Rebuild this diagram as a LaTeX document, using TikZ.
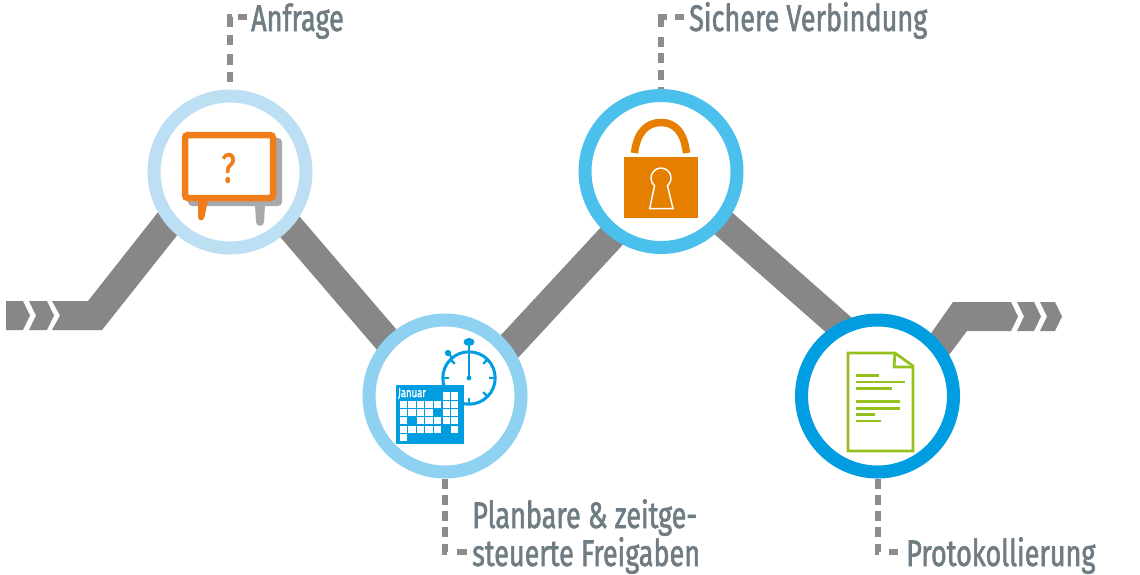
\documentclass[tikz,border=0pt]{standalone}
\usepackage{fontspec}
\usepackage{xcolor}
\usetikzlibrary{backgrounds}
\newfontfamily\labelfont[FakeStretch=0.73,FakeBold=1.5]{Fira Sans}

\definecolor{ringa}{HTML}{BDDFF3}
\definecolor{ringb}{HTML}{8ED1F0}
\definecolor{ringc}{HTML}{4CC0EC}
\definecolor{ringd}{HTML}{009EE0}
\definecolor{bandgrey}{HTML}{878787}
\definecolor{dashgrey}{HTML}{8C8C8C}
\definecolor{shadowgrey}{HTML}{A7A9AC}
\definecolor{textgrey}{HTML}{6F7C83}
\definecolor{bubbleorange}{HTML}{F07D1A}
\definecolor{lockorange}{HTML}{E67E00}
\definecolor{docgreen}{HTML}{95C11F}

\tikzset{
	ring/.style={circle, draw=#1, line width=13pt, fill=white, minimum size=152pt, inner sep=0pt},
	band/.style={draw=bandgrey, line width=28pt},
	leader/.style={draw=dashgrey, line width=6pt, dash pattern=#1},
	leaderbottom/.style={leader={on 10pt off 6.3pt on 10pt off 6.3pt on 10pt off 6.3pt on 10pt off 6.3pt on 10pt off 10pt on 10pt}},
	lbl/.style={text=textgrey, anchor=west, inner xsep=5pt, inner ysep=0pt, text height=30pt, text depth=2pt, font=\labelfont\fontsize{37}{40}\selectfont},
	docline/.style={draw=docgreen, line width=2.6pt}
}

\begin{document}
\begin{tikzpicture}[x=1pt, y=-1pt]
	\useasboundingbox (0,0) rectangle (1140,574);
	
	% die vier Kreise
	\node[ring=ringa] (anfrage) at (230,172) {};
	\node[ring=ringb] (freigabe) at (445,396) {};
	\node[ring=ringc] (verbindung) at (661,171.5) {};
	\node[ring=ringd] (protokoll) at (877.5,396) {};
	
	% Beschriftungen
	\node[lbl, inner xsep=4pt] (anfragetext) at (247,17) {Anfrage};
	\node[lbl] (verbindungtext) at (684,17) {Sichere Verbindung};
	\node[lbl] (freigabetexta) at (467,514) {Planbare \& zeitge-};
	\node[lbl] (freigabetextb) at (467,552) {steuerte Freigaben};
	\node[lbl, inner xsep=8pt] (protokolltext) at (898,552) {Protokollierung};
	
	\begin{pgfonlayer}{background}
		% Band
		\draw[band] ([yshift=15pt]anfrage.center) -- ([yshift=-11.6pt]freigabe.center);
		\draw[band] ([yshift=-20pt]freigabe.center) -- ([yshift=-11.5pt]verbindung.center);
		\draw[band] ([yshift=3pt]verbindung.center) -- ([yshift=37pt]protokoll.center);
		
		% linkes Ende
		\fill[bandgrey] (6,301) -- (23,301) -- (30,315.5) -- (23,330) -- (6,330) -- cycle;
		\fill[bandgrey] (29,301) -- (47,301) -- (54,315.5) -- (47,330) -- (29,330) -- (36,315.5) -- cycle;
		\fill[bandgrey] (52,301) -- (88,301) -- (170,197) -- (190,219) -- (102,330) -- (52,330) -- (60,315.5) -- cycle;
		
		% rechtes Ende
		\fill[bandgrey] (920,349) -- (953,302) -- (1011,302) -- (1018,316.5) -- (1011,331) -- (967,331) -- (940,367) -- cycle;
		\fill[bandgrey] (1017,302) -- (1034,302) -- (1041,316.5) -- (1034,331) -- (1017,331) -- (1024,316.5) -- cycle;
		\fill[bandgrey] (1040,302) -- (1055,302) -- (1062,316.5) -- (1055,331) -- (1040,331) -- (1047,316.5) -- cycle;
		
		% gestrichelte Linien
		\draw[leader={on 9pt off 6.5pt on 11pt off 8pt on 10pt off 9pt on 11pt off 7pt on 10pt off 8pt on 2pt}] (anfragetext.west) -| (anfrage.north);
		\draw[leader={on 9pt off 8pt on 16pt off 10pt on 10pt off 6pt on 10pt off 7pt on 10pt off 7pt on 4pt}] (verbindungtext.west) -| (verbindung.north);
		\draw[leaderbottom] (freigabe.south) |- (freigabetextb.west);
		\draw[leaderbottom] (protokoll.south) |- (protokolltext.west);
	\end{pgfonlayer}
	
	% Sprechblase
	\fill[shadowgrey, rounded corners=4pt] (188,138) rectangle (282,206);
	\fill[shadowgrey] (255,205) -- (265,205) -- (264,222) .. controls (264,227) and (256,227) .. (256,222) -- cycle;
	\draw[bubbleorange, line width=6.5pt, rounded corners=3pt, fill=white] (185,135) rectangle (273,198);
	\fill[bubbleorange] (198,200) -- (208,200) -- (204.5,217) .. controls (203.5,221.5) and (198,221.5) .. (198,217) -- cycle;
	\node[text=bubbleorange, font=\labelfont\fontsize{42}{42}\selectfont, inner sep=0pt] (frage) at (228.5,168) {?};
	
	% Stoppuhr
	\draw[ringd, line width=3pt] (469,378) circle (26.2);
	\fill[ringd] (469,342) ellipse (5.5 and 4);
	\draw[ringd, line width=2.4pt] (469,342) -- (469,352);
	\fill[ringd] (448,353) circle (3.2);
	\draw[ringd, line width=2pt] (448,353) -- (453,359);
	\foreach \w in {0,45,...,315} {
		\draw[ringd, line width=2.2pt] (469,378) ++(\w:20) -- ++(\w:5);
	}
	\draw[ringd, line width=2pt] (469,378) -- (469,356);
	\fill[ringd] (469,378) circle (2.4);
	
	% Kalender
	\fill[ringd] (396,385) rectangle (464,444);
	\node[text=white, font=\labelfont\fontsize{13}{13}\selectfont, inner sep=0pt] (januar) at (412,393.5) {Januar};
	\foreach \c/\r in {5/0,6/0,
		0/1,1/1,2/1,3/1,4/1,5/1,6/1,
		0/2,1/2,2/2,3/2,5/2,6/2,
		0/3,2/3,3/3,4/3,5/3,6/3,
		0/4,1/4,2/4,3/4,4/4,6/4,
		0/5} {
		\fill[white] (399.8+8.55*\c,392.3+8.3*\r) rectangle ++(7.2,7.2);
	}
	
	% Schloss
	\draw[lockorange, line width=7.5pt] (634.5,153) .. controls (637,132) and (647,122.5) .. (661,122.5) .. controls (675,122.5) and (684,132) .. (686.5,153);
	\fill[lockorange] (624,157) rectangle (698,218);
	\draw[white, line width=1.5pt, fill=lockorange, line join=miter] (654.57,185.66) arc (130:410:10) -- (673,208.5) -- (649.7,208.5) -- cycle;
	
	% Dokument
	\draw[docgreen, line width=2.8pt, fill=white] (848,353) -- (895,353) -- (913,366) -- (913,451) -- (848,451) -- cycle;
	\draw[docgreen, line width=2.8pt] (895,353) -- (894,367) -- (913,367);
	\foreach \yy/\xx in {375.3/879, 382/905, 388.7/892, 401.7/900, 408.3/900, 414.7/875, 421/881} {
		\draw[docline] (856,\yy) -- (\xx,\yy);
	}
\end{tikzpicture}
\end{document}
